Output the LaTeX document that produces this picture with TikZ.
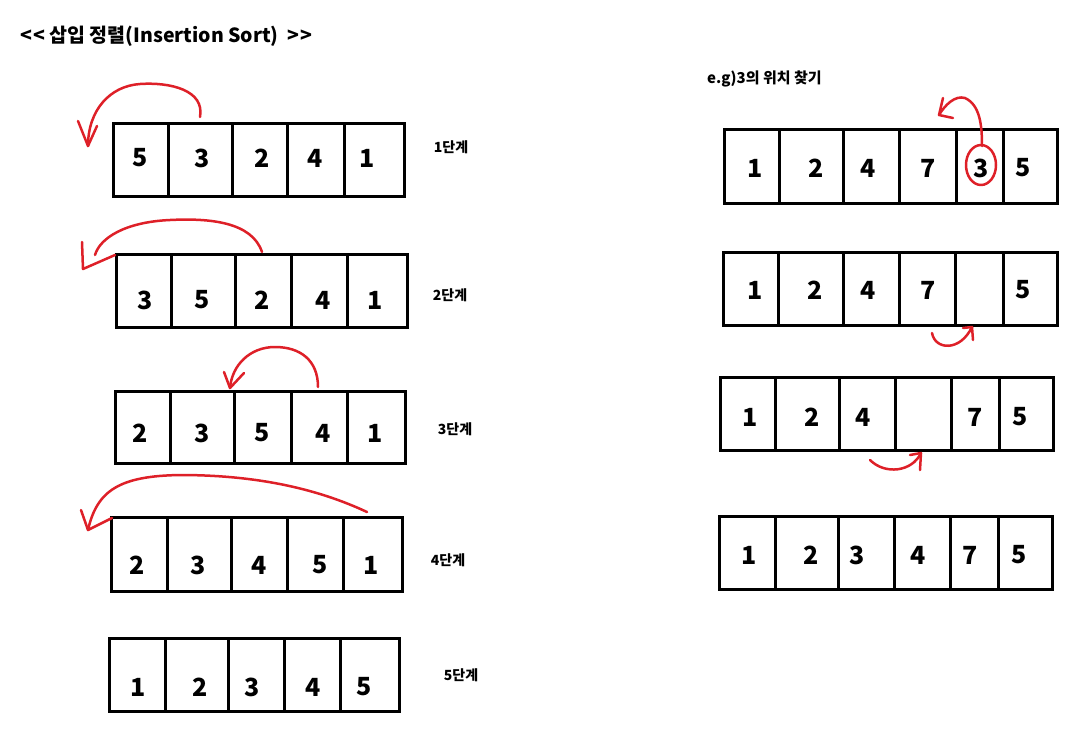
\documentclass[tikz,border=0pt]{standalone}
\usepackage{fontspec}
\setmainfont{Noto Sans CJK KR}
\definecolor{penred}{RGB}{222,32,40}
\begin{document}
\begin{tikzpicture}[x=1pt,y=-1pt,
  frame/.style={draw=black,line width=3pt},
  num/.style={font=\fontsize{25}{25}\selectfont\bfseries,inner sep=0pt},
  lab/.style={font=\fontsize{14}{14}\selectfont\bfseries,inner sep=0pt},
  ttl/.style={font=\fontsize{19.5}{20}\selectfont\bfseries,inner sep=0pt,anchor=west},
  pen/.style={draw=penred,line width=2.5pt,line cap=round,line join=round}]
\useasboundingbox (0,0) rectangle (1072,750);
% title
\node[ttl] (title) at (20,36) {{<}\kern1pt{<} 삽입 정렬(Insertion Sort) \ {>}\kern1pt{>}};
\node[inner sep=0pt,anchor=west,font=\fontsize{15}{15}\selectfont\bfseries] (eg) at (707,79) {e.g)3의 위치 찾기};
% ---------- left arrays ----------
% row 1
\draw[frame] (113,123) rectangle (404,196);
\foreach \x in {168,232,287,344} \draw[frame] (\x,123) -- (\x,196);
\node[num] (a11) at (140,158) {5};
\node[num] (a12) at (202,158) {3};
\node[num] (a13) at (262,158) {2};
\node[num] (a14) at (315,158) {4};
\node[num] (a15) at (367,158) {1};
\node[lab] (s1) at (451,147) {1단계};
% row 2
\draw[frame] (116,254) rectangle (407,327);
\foreach \x in {171,235,291,347} \draw[frame] (\x,254) -- (\x,327);
\node[num] (a21) at (145,300) {3};
\node[num] (a22) at (202,300) {5};
\node[num] (a23) at (262,300) {2};
\node[num] (a24) at (323,300) {4};
\node[num] (a25) at (375,300) {1};
\node[lab] (s2) at (450,295) {2단계};
% row 3
\draw[frame] (115,391) rectangle (405,463);
\foreach \x in {170,234,291,347} \draw[frame] (\x,391) -- (\x,463);
\node[num] (a31) at (140,433) {2};
\node[num] (a32) at (202,433) {3};
\node[num] (a33) at (262,433) {5};
\node[num] (a34) at (323,433) {4};
\node[num] (a35) at (375,433) {1};
\node[lab] (s3) at (455,429) {3단계};
% row 4
\draw[frame] (111,517) rectangle (402,591);
\foreach \x in {167,231,287,343} \draw[frame] (\x,517) -- (\x,591);
\node[num] (a41) at (137,565) {2};
\node[num] (a42) at (198,565) {3};
\node[num] (a43) at (259,565) {4};
\node[num] (a44) at (320,565) {5};
\node[num] (a45) at (371,565) {1};
\node[lab] (s4) at (448,560) {4단계};
% row 5
\draw[frame] (109,638) rectangle (399,711);
\foreach \x in {165,228,284,340} \draw[frame] (\x,638) -- (\x,711);
\node[num] (a51) at (138,687) {1};
\node[num] (a52) at (200,687) {2};
\node[num] (a53) at (252,687) {3};
\node[num] (a54) at (313,687) {4};
\node[num] (a55) at (364,687) {5};
\node[lab] (s5) at (461,675) {5단계};
% ---------- left arrows ----------
\coordinate (p1s) at (200,117); \coordinate (p1t) at (88,146);
\draw[pen] (p1s) .. controls (205,90) and (170,82) .. (140,84) .. controls (110,86) and (88,110) .. (p1t);
\draw[pen] (78,121) -- (p1t) -- (97,126);
\coordinate (p2s) at (262,252); \coordinate (p2t) at (83,269);
\draw[pen] (p2s) .. controls (252,222) and (210,218) .. (170,220) .. controls (125,222) and (100,238) .. (95,255);
\draw[pen] (82,242) -- (p2t) -- (115,255);
\coordinate (p3s) at (318,387); \coordinate (p3t) at (230,388);
\draw[pen] (p3s) .. controls (318,360) and (300,347) .. (275,347) .. controls (250,347) and (232,365) .. (p3t);
\draw[pen] (224,372) -- (p3t) -- (244,373);
\coordinate (p4s) at (367,512); \coordinate (p4t) at (88,530);
\draw[pen] (p4s) .. controls (320,490) and (260,475) .. (180,475) .. controls (120,476) and (97,490) .. (p4t);
\draw[pen] (81,510) -- (p4t) -- (112,518);
% ---------- right arrays ----------
% row 1
\draw[frame] (724,129) rectangle (1057,203);
\foreach \x in {779,843,899,956,1003} \draw[frame] (\x,129) -- (\x,203);
\node[num] (b11) at (755,168) {1};
\node[num] (b12) at (816,168) {2};
\node[num] (b13) at (868,168) {4};
\node[num] (b14) at (928,168) {7};
\node[num] (b15) at (981,168) {3};
\node[num] (b16) at (1023,168) {5};
% row 2
\draw[frame] (723,252) rectangle (1057,325);
\foreach \x in {778,843,899,955,1003} \draw[frame] (\x,252) -- (\x,325);
\node[num] (b21) at (755,290) {1};
\node[num] (b22) at (815,290) {2};
\node[num] (b23) at (868,290) {4};
\node[num] (b24) at (928,290) {7};
\node[num] (b26) at (1023,290) {5};
% row 3
\draw[frame] (720,377) rectangle (1053,450);
\foreach \x in {775,839,895,951,999} \draw[frame] (\x,377) -- (\x,450);
\node[num] (b31) at (750,417) {1};
\node[num] (b32) at (812,417) {2};
\node[num] (b33) at (863,417) {4};
\node[num] (b35) at (975,417) {7};
\node[num] (b36) at (1020,417) {5};
% row 4
\draw[frame] (719,516) rectangle (1052,589);
\foreach \x in {775,838,894,950,998} \draw[frame] (\x,516) -- (\x,589);
\node[num] (b41) at (749,555) {1};
\node[num] (b42) at (811,555) {2};
\node[num] (b43) at (857,555) {3};
\node[num] (b44) at (918,555) {4};
\node[num] (b45) at (970,555) {7};
\node[num] (b46) at (1019,555) {5};
% ---------- right arrows ----------
\draw[pen] (981,165) ellipse [x radius=15,y radius=20];
\coordinate (q1s) at (982,146); \coordinate (q1t) at (939,115);
\draw[pen] (q1s) .. controls (982,125) and (980,105) .. (965,98) .. controls (955,95) and (945,105) .. (q1t);
\draw[pen] (943,98) -- (q1t) -- (953,118);
\coordinate (q2s) at (932,333); \coordinate (q2t) at (972,327);
\draw[pen] (q2s) .. controls (935,350) and (960,352) .. (q2t);
\draw[pen] (963,328) -- (q2t) -- (973,340);
\coordinate (q3s) at (870,460); \coordinate (q3t) at (921,453);
\draw[pen] (q3s) .. controls (885,475) and (912,472) .. (q3t);
\draw[pen] (910,455) -- (q3t) -- (920,470);
\end{tikzpicture}
\end{document}
